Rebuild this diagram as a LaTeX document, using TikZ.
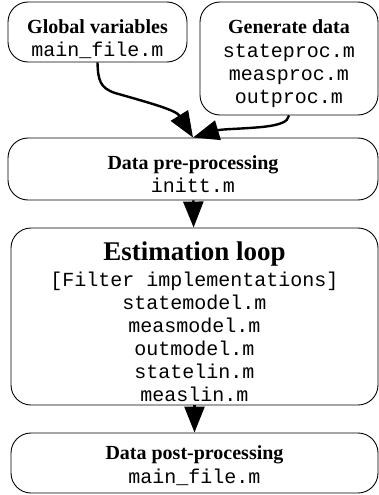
\documentclass[tikz,border=0pt]{standalone}
\usepackage{fontspec}
\setmainfont{Liberation Serif}
\setmonofont{Liberation Mono}
\usetikzlibrary{arrows.meta}
\begin{document}
\begin{tikzpicture}[x=1pt,y=-1pt,
  box/.style={draw, rounded corners=20pt, line width=0.9pt, inner sep=0pt},
  txt/.style={align=center, inner sep=0pt, font=\fontsize{20}{23}\selectfont},
  conn/.style={line width=2.4pt, -{Triangle[length=26pt,width=20pt]}},
]
\useasboundingbox (0,0) rectangle (379,495);
\node[box, minimum width=179pt, minimum height=60pt] (gv) at (97.5,32) {};
\node[txt] (gvt) at (97.5,39) {\textbf{Global variables}\\\ttfamily main\_file.m};
\node[box, minimum width=178pt, minimum height=113pt] (gen) at (289,58.5) {};
\node[txt] (gent) at (289,63.5) {\textbf{Generate data}\\[1pt]\ttfamily stateproc.m\\\ttfamily measproc.m\\\ttfamily outproc.m};
\node[box, minimum width=370pt, minimum height=62pt] (pre) at (193,169) {};
\node[txt] (pret) at (193,174) {\textbf{Data pre-processing}\\\ttfamily initt.m};
\node[box, minimum width=367pt, minimum height=177pt] (est) at (194.5,316.5) {};
\node[txt] (estt) at (194.5,321.5) {{\fontsize{27}{27}\selectfont\bfseries Estimation loop}\\[3pt]\ttfamily [Filter implementations]\\\ttfamily statemodel.m\\\ttfamily measmodel.m\\\ttfamily outmodel.m\\\ttfamily statelin.m\\\ttfamily measlin.m};
\node[box, minimum width=367pt, minimum height=60pt] (post) at (194.5,463) {};
\node[txt] (postt) at (194.5,465.5) {\textbf{Data post-processing}\\[1pt]\ttfamily main\_file.m};
\draw[conn] (gv.south) .. controls (98,80) and (100,88) .. (115,93)
  .. controls (150,103) and (176,110) .. (pre.north);
\draw[conn] (gen.south) .. controls (288,122) and (280,125) .. (262,127)
  .. controls (240,129) and (222,129) .. (pre.north);
\draw[conn] (pre) -- (est);
\draw[conn] (est) -- (post);
\end{tikzpicture}
\end{document}
